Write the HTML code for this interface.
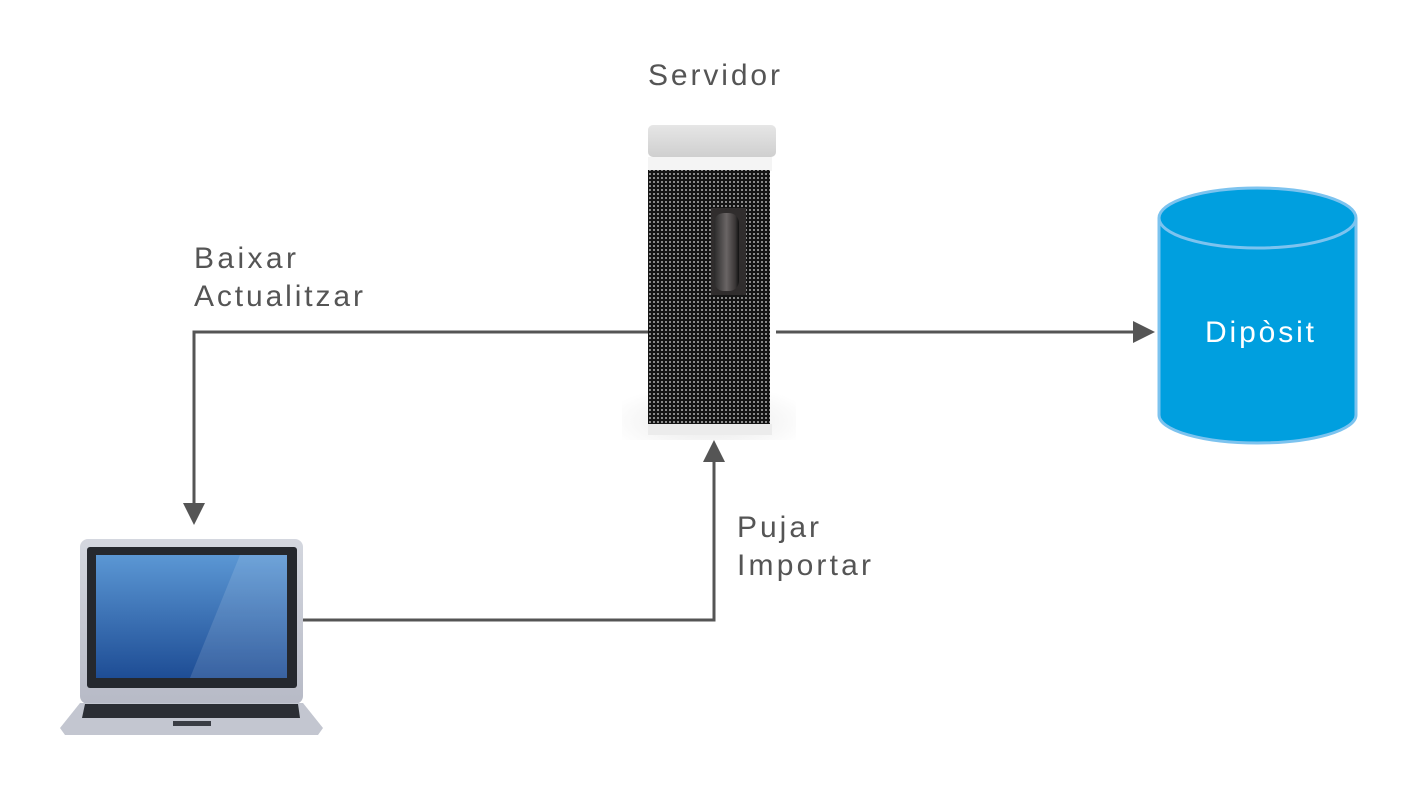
<!DOCTYPE html>
<html><head><meta charset="utf-8"><style>html,body{margin:0;padding:0;background:#fff}svg{display:block}</style></head>
<body>
<svg width="1417" height="793" viewBox="0 0 1417 793" xmlns="http://www.w3.org/2000/svg" font-family="Liberation Sans, sans-serif">
<defs>
<pattern id="grid" width="4" height="4" patternUnits="userSpaceOnUse">
<rect width="4" height="4" fill="#151515"/><rect x="1" y="1" width="2" height="2" fill="#8a8a8a"/>
</pattern>
<linearGradient id="cap" x1="0" y1="0" x2="0" y2="1"><stop offset="0" stop-color="#e6e6e6"/><stop offset="1" stop-color="#cfcfcf"/></linearGradient>
<linearGradient id="handle" x1="0" y1="0" x2="1" y2="0"><stop offset="0" stop-color="#2a2a2a"/><stop offset="0.5" stop-color="#6a6565"/><stop offset="0.85" stop-color="#3a3636"/><stop offset="1" stop-color="#111"/></linearGradient>
<linearGradient id="scr" x1="0" y1="0" x2="0" y2="1"><stop offset="0" stop-color="#5b97d4"/><stop offset="1" stop-color="#1e4d95"/></linearGradient>
<linearGradient id="lid" x1="0" y1="0" x2="0" y2="1"><stop offset="0" stop-color="#d4d7df"/><stop offset="1" stop-color="#b7bac6"/></linearGradient>
<radialGradient id="shadow" cx="0.5" cy="0.7" r="0.6"><stop offset="0" stop-color="#e8e8e8"/><stop offset="1" stop-color="#fff"/></radialGradient>
</defs>

<g stroke="#555" stroke-width="3" fill="none">
<polyline points="648,332 194,332 194,512"/>
<polyline points="303,620 714,620 714,458"/>
<line x1="776" y1="332" x2="1136" y2="332"/>
</g>
<g fill="#555">
<polygon points="183,503 205,503 194,525"/>
<polygon points="703,462 725,462 714,440"/>
<polygon points="1133,321 1133,343 1155,332"/>
</g>

<rect x="622" y="378" width="174" height="62" fill="url(#shadow)"/>
<rect x="648" y="125" width="128" height="32" rx="5" fill="url(#cap)"/>
<rect x="648" y="157" width="124" height="14" fill="#f4f4f4"/>
<rect x="648" y="170" width="122" height="256" fill="url(#grid)"/>
<rect x="648" y="424" width="124" height="11" fill="#ececec"/>
<rect x="711" y="208" width="35" height="87" fill="#302d2d"/>
<rect x="714" y="213" width="25" height="78" rx="10" fill="url(#handle)"/>

<rect x="80" y="539" width="223" height="165" rx="8" fill="url(#lid)"/>
<rect x="87" y="547" width="210" height="141" rx="3" fill="#25282e"/>
<rect x="96" y="555" width="191" height="123" fill="url(#scr)"/>
<polygon points="240,555 287,555 287,678 190,678" fill="#ffffff" opacity="0.12"/>
<polygon points="80,703 303,703 323,728 318,735 65,735 60,728" fill="#c3c6d0"/>
<polygon points="85,704 298,704 300,718 82,718" fill="#2b2e34"/>
<rect x="173" y="721" width="38" height="5" fill="#3a3d44"/>

<path d="M1159,218 L1159,415 A98.5,28 0 0 0 1356,415 L1356,218" fill="#009fdf" stroke="#7cc3ef" stroke-width="3"/>
<ellipse cx="1257.5" cy="218" rx="98.5" ry="30" fill="#009fdf" stroke="#7cc3ef" stroke-width="3"/>

<g fill="#555" font-size="30">
<text x="648" y="85" textLength="132" lengthAdjust="spacing">Servidor</text>
<text x="194" y="268" textLength="102" lengthAdjust="spacing">Baixar</text>
<text x="194" y="306" textLength="169" lengthAdjust="spacing">Actualitzar</text>
<text x="737" y="537" textLength="82" lengthAdjust="spacing">Pujar</text>
<text x="737" y="575" textLength="134" lengthAdjust="spacing">Importar</text>
</g>
<text x="1205" y="342" fill="#fff" font-size="30" textLength="109" lengthAdjust="spacing">Dipòsit</text>
</svg>
</body></html>
